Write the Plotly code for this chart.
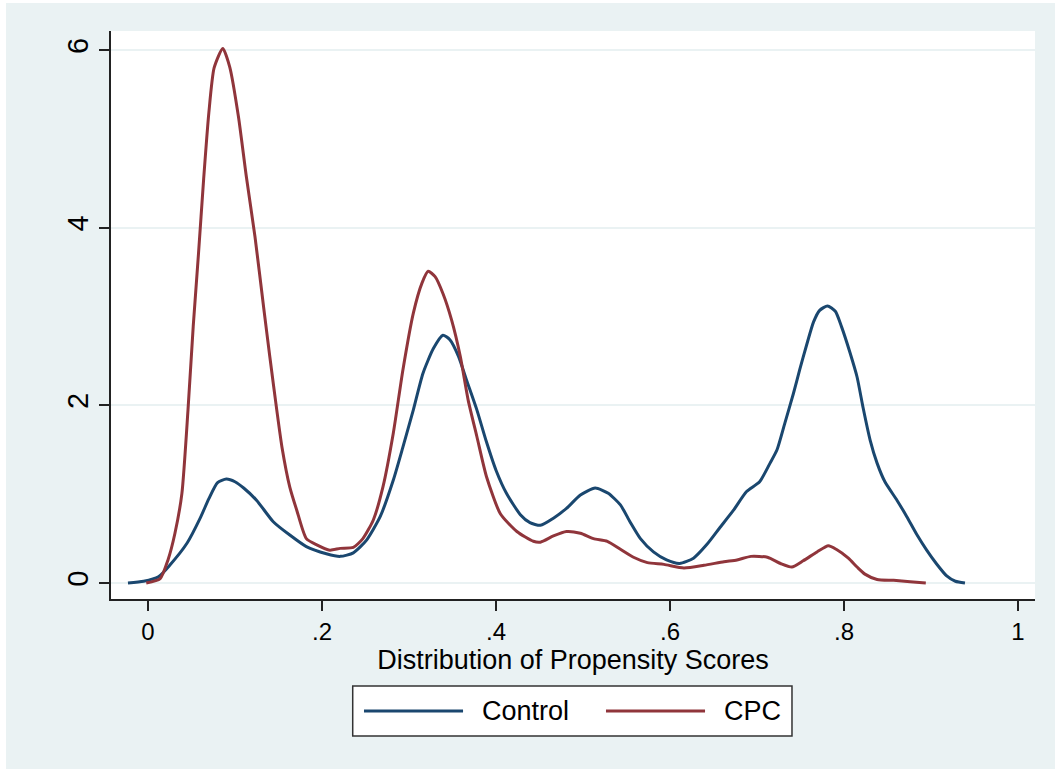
import plotly.graph_objects as go

# ---- data ----
control_x = [-0.023, -0.005, 0.012, 0.025, 0.045, 0.060, 0.070, 0.080, 0.090, 0.100,
             0.110, 0.125, 0.144, 0.163, 0.182, 0.205, 0.221, 0.236, 0.251, 0.267,
             0.282, 0.293, 0.305, 0.316, 0.328, 0.339, 0.347, 0.357, 0.366, 0.378,
             0.389, 0.400, 0.412, 0.428, 0.439, 0.451, 0.466, 0.481, 0.497, 0.514,
             0.529, 0.543, 0.554, 0.566, 0.581, 0.596, 0.611, 0.627, 0.642, 0.657,
             0.673, 0.688, 0.703, 0.715, 0.723, 0.732, 0.742, 0.749, 0.757, 0.765,
             0.772, 0.781, 0.790, 0.797, 0.807, 0.815, 0.822, 0.830, 0.838, 0.847,
             0.861, 0.872, 0.884, 0.895, 0.906, 0.918, 0.928, 0.939]
control_y = [0.00, 0.02, 0.07, 0.20, 0.45, 0.73, 0.95, 1.13, 1.17, 1.14,
             1.07, 0.93, 0.69, 0.54, 0.41, 0.33, 0.30, 0.34, 0.48, 0.75,
             1.16, 1.53, 1.95, 2.36, 2.64, 2.79, 2.74, 2.55, 2.29, 1.95,
             1.59, 1.27, 1.01, 0.77, 0.68, 0.65, 0.73, 0.84, 0.99, 1.07,
             1.01, 0.88, 0.69, 0.50, 0.35, 0.26, 0.22, 0.28, 0.43, 0.62,
             0.82, 1.03, 1.14, 1.35, 1.50, 1.80, 2.14, 2.40, 2.68, 2.94,
             3.07, 3.12, 3.06, 2.89, 2.59, 2.32, 1.97, 1.61, 1.35, 1.14,
             0.93, 0.75, 0.54, 0.37, 0.22, 0.08, 0.02, 0.00]

cpc_x = [-0.002, 0.014, 0.023, 0.031, 0.039, 0.046, 0.052, 0.058, 0.064, 0.070,
         0.076, 0.086, 0.094, 0.104, 0.113, 0.123, 0.133, 0.140, 0.148,
         0.154, 0.163, 0.171, 0.182, 0.194, 0.209, 0.221, 0.236, 0.247, 0.259,
         0.270, 0.282, 0.293, 0.305, 0.315, 0.322, 0.330, 0.339, 0.349, 0.359,
         0.368, 0.378, 0.389, 0.405, 0.424, 0.443, 0.451, 0.466, 0.481, 0.497,
         0.512, 0.528, 0.543, 0.558, 0.574, 0.593, 0.616, 0.639, 0.662, 0.677,
         0.693, 0.712, 0.727, 0.740, 0.753, 0.769, 0.782, 0.791, 0.805, 0.815,
         0.824, 0.838, 0.857, 0.876, 0.894]
cpc_y = [0.00, 0.05, 0.26, 0.56, 1.01, 1.95, 2.89, 3.70, 4.55, 5.30,
         5.80, 6.02, 5.81, 5.25, 4.58, 3.90, 3.10, 2.55, 1.95,
         1.53, 1.08, 0.82, 0.50, 0.43, 0.37, 0.39, 0.40, 0.50, 0.71,
         1.08, 1.69, 2.40, 3.04, 3.38, 3.51, 3.45, 3.26, 2.96, 2.55,
         2.06, 1.65, 1.20, 0.78, 0.58, 0.47, 0.46, 0.53, 0.58, 0.56,
         0.50, 0.47, 0.38, 0.29, 0.23, 0.21, 0.17, 0.20, 0.24, 0.26,
         0.30, 0.29, 0.22, 0.18, 0.25, 0.35, 0.42, 0.38, 0.28, 0.18,
         0.10, 0.04, 0.03, 0.015, 0.00]

x_tickvals = [0, 0.2, 0.4, 0.6, 0.8, 1]
x_ticktext = ["0", ".2", ".4", ".6", ".8", "1"]
y_tickvals = [0, 2, 4, 6]
y_ticktext = ["0", "2", "4", "6"]
series_names = ["Control", "CPC"]

# ---- styles ----
BLUE = "#1A476F"
RED = "#90353B"
BG = "#EAF2F3"
FONT = "Liberation Sans, Arial, sans-serif"
LW = 3

fig = go.Figure()
fig.add_trace(go.Scatter(x=control_x, y=control_y, mode="lines", name=series_names[0],
                         line=dict(color=BLUE, width=LW, shape="spline", smoothing=0.6),
                         showlegend=False))
fig.add_trace(go.Scatter(x=cpc_x, y=cpc_y, mode="lines", name=series_names[1],
                         line=dict(color=RED, width=LW, shape="spline", smoothing=0.6),
                         showlegend=False))

# manual Stata-style legend (paper coords relative to plot area)
LEG_Y = -0.197
shapes = [
    dict(type="rect", xref="paper", yref="paper", x0=0.2616, x1=0.737, y0=-0.2412, y1=-0.1532,
         fillcolor="white", line=dict(color="#333333", width=1.5), layer="above"),
    dict(type="line", xref="paper", yref="paper", x0=0.2738, x1=0.381, y0=LEG_Y, y1=LEG_Y,
         line=dict(color=BLUE, width=LW)),
    dict(type="line", xref="paper", yref="paper", x0=0.5357, x1=0.6429, y0=LEG_Y, y1=LEG_Y,
         line=dict(color=RED, width=LW)),
]
annotations = [
    dict(text=series_names[0], xref="paper", yref="paper", x=0.3994, y=LEG_Y,
         xanchor="left", yanchor="middle", showarrow=False,
         font=dict(family=FONT, size=27, color="black")),
    dict(text=series_names[1], xref="paper", yref="paper", x=0.6613, y=LEG_Y,
         xanchor="left", yanchor="middle", showarrow=False,
         font=dict(family=FONT, size=27, color="black")),
]

fig.update_layout(
    width=1049, height=766,
    margin=dict(l=105, r=20, t=28, b=170, pad=0),
    paper_bgcolor=BG, plot_bgcolor="white",
    font=dict(family=FONT, color="black"),
    shapes=shapes, annotations=annotations,
    showlegend=False,
)
fig.update_xaxes(
    range=[-0.0425, 1.0195], tickvals=x_tickvals, ticktext=x_ticktext,
    showgrid=False, zeroline=False,
    showline=True, linecolor="#222222", linewidth=1.5,
    ticks="outside", ticklen=10, tickwidth=1.5, tickcolor="#222222",
    tickfont=dict(family=FONT, size=24, color="black"),
    title=dict(text="Distribution of Propensity Scores", standoff=2,
               font=dict(family=FONT, size=27, color="black")),
)
fig.update_yaxes(
    range=[-0.18, 6.216], tickvals=y_tickvals, ticktext=y_ticktext, tickangle=-90,
    showgrid=True, gridcolor=BG, gridwidth=2, zeroline=False,
    showline=True, linecolor="#222222", linewidth=1.5,
    ticks="outside", ticklen=10, tickwidth=1.5, tickcolor="#222222",
    tickfont=dict(family=FONT, size=29, color="black"),
)

fig.write_html(
    "out.html",
    post_script="document.body.style.margin='3px 0 0 6px';document.body.style.overflow='hidden';",
)
